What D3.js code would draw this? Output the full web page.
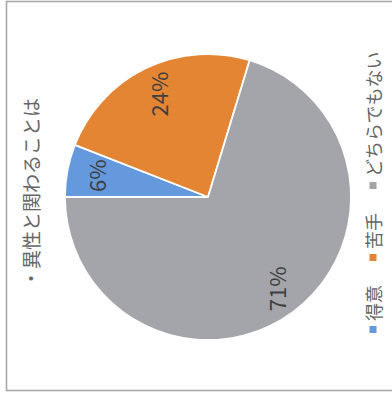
<!DOCTYPE html>
<html>
<head>
<meta charset="utf-8">
<script src="https://cdn.jsdelivr.net/npm/d3@7"></script>
<style>
  html, body { margin: 0; padding: 0; background: #fff; }
  svg { display: block; }
</style>
</head>
<body>
<svg id="chart" width="392" height="397"></svg>
<script>
// Survey answers: 「異性と関わることは」
const title = "・異性と関わることは";
const categories = ["得意", "苦手", "どちらでもない"];
const percents = [6, 24, 71];
const colors = ["#6499dd", "#e38533", "#a4a5aa"];

const W = 392, H = 397;
const svg = d3.select("#chart");
const cjk = "'Noto Sans CJK JP', 'Noto Sans', sans-serif";

// outer chart frame
svg.append("rect")
  .attr("x", 6.5).attr("y", 1.5)
  .attr("width", 420).attr("height", 389)
  .attr("fill", "#fff")
  .attr("stroke", "#a9a9a9")
  .attr("stroke-width", 1.6);

// the whole chart is laid out turned a quarter turn counter-clockwise:
// the first slice starts at the left and runs clockwise
const cx = 208, cy = 197, R = 143;
const pie = d3.pie().sort(null).value(d => d)
  .startAngle(-Math.PI / 2).endAngle(1.5 * Math.PI);
const arcs = pie(percents);
const arc = d3.arc().innerRadius(0).outerRadius(R);
const labelArc = d3.arc().innerRadius(R * 0.8).outerRadius(R * 0.8);

const g = svg.append("g").attr("transform", `translate(${cx},${cy})`);
g.selectAll("path.slice").data(arcs).enter().append("path")
  .attr("class", "slice")
  .attr("d", arc)
  .attr("fill", (d, i) => colors[i])
  .attr("stroke", "#fff")
  .attr("stroke-width", 1.8)
  .attr("stroke-linejoin", "round");

g.selectAll("text.val").data(arcs).enter().append("text")
  .attr("class", "val")
  .attr("transform", d => {
    const [x, y] = labelArc.centroid(d);
    return `translate(${x},${y}) rotate(-90)`;
  })
  .attr("text-anchor", "middle")
  .attr("dominant-baseline", "central")
  .attr("font-family", cjk)
  .attr("font-size", 22)
  .attr("fill", "#404040")
  .text(d => d.data + "%");

// title, reading bottom-to-top on the left
svg.append("text")
  .attr("transform", `translate(30,193) rotate(-90)`)
  .attr("text-anchor", "middle")
  .attr("dominant-baseline", "central")
  .attr("font-family", cjk)
  .attr("font-size", 19)
  .attr("fill", "#666666")
  .text(title);

// legend along the right edge, reading bottom-to-top
const legend = svg.append("g").attr("transform", `translate(373,333) rotate(-90)`);
let offset = 0;
categories.forEach((c, i) => {
  const item = legend.append("g").attr("transform", `translate(${offset},0)`);
  item.append("rect")
    .attr("x", 0).attr("y", -3.5)
    .attr("width", 7).attr("height", 7)
    .attr("fill", colors[i]);
  const t = item.append("text")
    .attr("x", 12).attr("y", 0)
    .attr("dominant-baseline", "central")
    .attr("font-family", cjk)
    .attr("font-size", 18)
    .attr("fill", "#666666")
    .text(c);
  offset += 12 + t.node().getComputedTextLength() + 24;
});
</script>
</body>
</html>
